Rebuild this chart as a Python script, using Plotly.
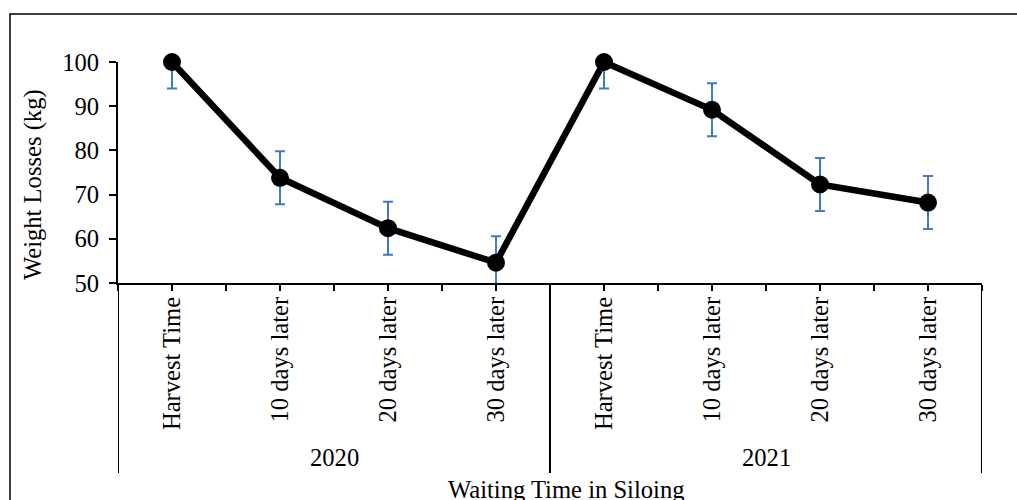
import plotly.graph_objects as go

years = ["2020", "2021"]
stages = ["Harvest Time", "10 days later", "20 days later", "30 days later"]
loss_2020 = [100, 73.8, 62.4, 54.6]
loss_2021 = [100, 89.2, 72.3, 68.2]
err_2020 = [6, 6, 6, 6]
err_2021 = [6, 6, 6, 6]
y_ticks = [50, 60, 70, 80, 90, 100]

values = loss_2020 + loss_2021
errors = err_2020 + err_2021
labels = stages + stages
xpos = list(range(len(labels)))

FONT = "Liberation Serif"
FS = 24.6
W, H = 1017, 500
L, R, T, B = 118, 35, 62, 217
pw, ph = W - L - R, H - T - B

def px_x(p):
    return (p - L) / pw

def px_y(p):
    return (H - B - p) / ph

fig = go.Figure()
fig.add_trace(go.Scatter(
    x=xpos, y=values, mode="lines+markers",
    line=dict(color="black", width=6.5),
    marker=dict(color="black", size=18),
    error_y=dict(type="data", array=errors, color="#4079CC", thickness=2, width=5),
    cliponaxis=False, showlegend=False, hoverinfo="skip",
))

# tick positions at category centers and boundaries
tickvals = []
ticktext = []
for i in range(len(labels)):
    tickvals.append(i - 0.5)
    ticktext.append("")
    tickvals.append(i)
    ticktext.append(labels[i])
tickvals.append(len(labels) - 0.5)
ticktext.append("")

fig.update_xaxes(
    range=[-0.5, len(labels) - 0.5], tickmode="array", tickvals=tickvals, ticktext=ticktext,
    tickangle=-90, ticks="outside", ticklen=6, tickwidth=2, tickcolor="black",
    showline=True, linecolor="black", linewidth=2, showgrid=False, zeroline=False,
    tickfont=dict(family=FONT, size=FS, color="black"), automargin=False,
    ticklabelstandoff=-4,
)
fig.update_yaxes(
    range=[50, 100], tickmode="array", tickvals=y_ticks,
    ticks="outside", ticklen=7, tickwidth=2, tickcolor="black",
    showline=True, linecolor="black", linewidth=2, showgrid=False, zeroline=False,
    tickfont=dict(family=FONT, size=FS, color="black"), automargin=False,
    ticklabelstandoff=5,
)

shapes = []
n_per = len(stages)
for g in range(len(years) + 1):
    xv = g * n_per - 0.5
    shapes.append(dict(type="line", xref="x", yref="paper", x0=xv, x1=xv,
                       y0=0, y1=px_y(473), line=dict(color="black", width=2)))
# outer chart frame
shapes.append(dict(type="rect", xref="paper", yref="paper",
                   x0=px_x(10), x1=px_x(1100), y0=px_y(600), y1=px_y(14),
                   line=dict(color="black", width=1.5), layer="below"))

annotations = []
for g, yr in enumerate(years):
    annotations.append(dict(text=yr, xref="x", yref="paper", x=g * n_per + (n_per - 1) / 2,
                            y=px_y(458), showarrow=False, xanchor="center", yanchor="middle",
                            font=dict(family=FONT, size=FS, color="black")))
annotations.append(dict(text="Waiting Time in Siloing", xref="paper", yref="paper",
                        x=px_x(566), y=px_y(489), showarrow=False, xanchor="center",
                        yanchor="middle", font=dict(family=FONT, size=FS, color="black")))
annotations.append(dict(text="Weight Losses (kg)", xref="paper", yref="paper",
                        x=px_x(33), y=px_y(185), showarrow=False, textangle=-90,
                        xanchor="center", yanchor="middle",
                        font=dict(family=FONT, size=FS, color="black")))

fig.update_layout(
    width=W, height=H, margin=dict(l=L, r=R, t=T, b=B),
    paper_bgcolor="white", plot_bgcolor="white",
    shapes=shapes, annotations=annotations, hovermode=False,
)

fig.write_html("out.html", config={"displayModeBar": False},
               post_script="document.body.style.margin='0';")
